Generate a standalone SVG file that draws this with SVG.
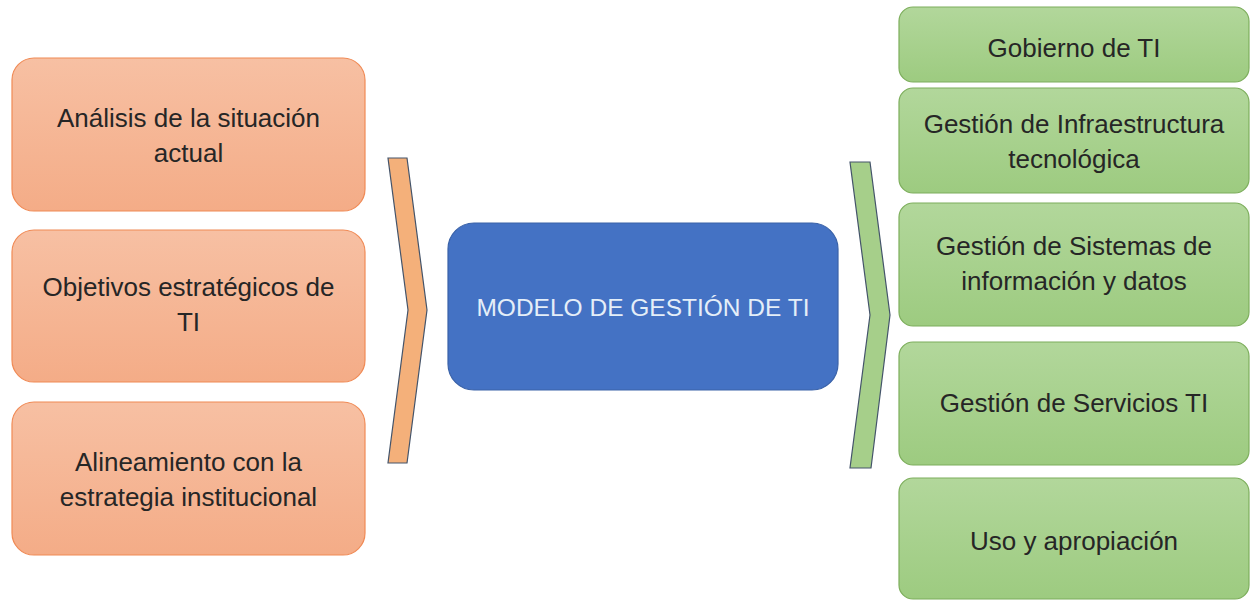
<svg xmlns="http://www.w3.org/2000/svg" width="1250" height="602" viewBox="0 0 1250 602">
<defs>
<linearGradient id="gOr" x1="0" y1="0" x2="0" y2="1">
<stop offset="0" stop-color="#F7C0A3"/>
<stop offset="1" stop-color="#F4AC87"/>
</linearGradient>
<linearGradient id="gGr" x1="0" y1="0" x2="0" y2="1">
<stop offset="0" stop-color="#B2D79B"/>
<stop offset="1" stop-color="#9DCB80"/>
</linearGradient>
</defs>
<style>
.or{fill:url(#gOr);stroke:#F08A55;stroke-width:1.2}
.gr{fill:url(#gGr);stroke:#7DAE5C;stroke-width:1.2}
.t{font-family:"Liberation Sans",Arial,sans-serif;font-size:26px;fill:#262626;text-anchor:middle}
.c{font-family:"Liberation Sans",Arial,sans-serif;font-size:24.5px;fill:#E4EEF8;text-anchor:middle}
</style>
<rect width="1250" height="602" fill="#FFFFFF"/>
<g id="connectors">
<polygon points="388,158 407,158 427,310 407,463 388,463 408,310" fill="#F4B07A" stroke="#44546A" stroke-width="1.2"/>
<polygon points="850,162 870,162 890,315 871,468 850,468 870,315" fill="#A6CF8A" stroke="#44546A" stroke-width="1.2"/>
</g>
<g id="n1"><rect class="or" x="12" y="58" width="353" height="153" rx="22"/>
<text class="t" x="188.5" y="127">Análisis de la situación</text>
<text class="t" x="188.5" y="162">actual</text></g>
<g id="n2"><rect class="or" x="12" y="230" width="353" height="152" rx="22"/>
<text class="t" x="188.5" y="296">Objetivos estratégicos de</text>
<text class="t" x="188.5" y="331">TI</text></g>
<g id="n3"><rect class="or" x="12" y="402" width="353" height="153" rx="22"/>
<text class="t" x="188.5" y="471">Alineamiento con la</text>
<text class="t" x="188.5" y="506">estrategia institucional</text></g>
<g id="center"><rect x="448" y="223" width="390" height="167" rx="26" fill="#4472C4" stroke="#3A62A8" stroke-width="1.2"/>
<text class="c" x="643" y="316">MODELO DE GESTIÓN DE TI</text></g>
<g id="r1"><rect class="gr" x="899" y="7" width="350" height="75" rx="14"/>
<text class="t" x="1074" y="57">Gobierno de TI</text></g>
<g id="r2"><rect class="gr" x="899" y="88" width="350" height="105" rx="14"/>
<text class="t" x="1074" y="133">Gestión de Infraestructura</text>
<text class="t" x="1074" y="168">tecnológica</text></g>
<g id="r3"><rect class="gr" x="899" y="203" width="350" height="123" rx="14"/>
<text class="t" x="1074" y="255">Gestión de Sistemas de</text>
<text class="t" x="1074" y="290">información y datos</text></g>
<g id="r4"><rect class="gr" x="899" y="342" width="350" height="123" rx="14"/>
<text class="t" x="1074" y="412">Gestión de Servicios TI</text></g>
<g id="r5"><rect class="gr" x="899" y="478" width="350" height="121" rx="14"/>
<text class="t" x="1074" y="550">Uso y apropiación</text></g>
</svg>
